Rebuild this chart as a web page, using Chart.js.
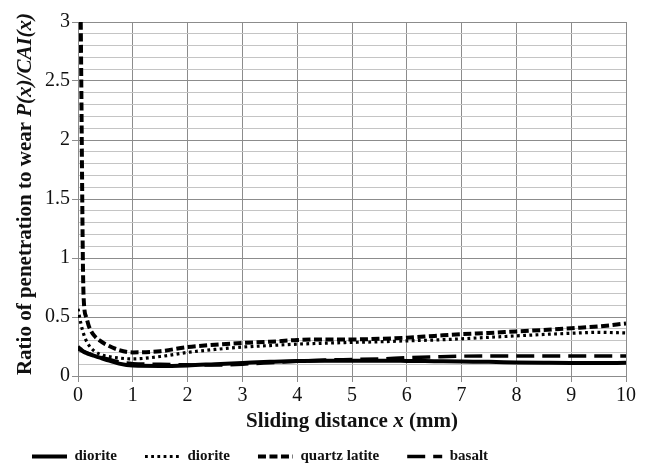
<!DOCTYPE html>
<html>
<head>
<meta charset="utf-8">
<script src="https://cdn.jsdelivr.net/npm/chart.js@4"></script>
<style>
html,body{margin:0;padding:0;background:#fff;}
#wrap{width:646px;height:468px;position:relative;}
</style>
</head>
<body>
<div id="wrap"><canvas id="c"></canvas></div>
<script>
const xValues = [0, 0.05, 0.1, 0.15, 0.2, 0.3, 0.4, 0.5, 0.75, 1, 1.5, 2, 2.5, 3, 3.5, 4, 4.5, 5, 5.5, 6, 6.5, 7, 7.5, 8, 8.5, 9, 9.5, 10];
const dioriteSolid = [0.23, 0.22, 0.205, 0.195, 0.185, 0.17, 0.155, 0.14, 0.105, 0.088, 0.085, 0.09, 0.1, 0.11, 0.12, 0.128, 0.13, 0.13, 0.13, 0.128, 0.125, 0.122, 0.12, 0.115, 0.112, 0.11, 0.11, 0.112];
const dioriteDotted = [0.57, 0.45, 0.36, 0.3, 0.26, 0.21, 0.185, 0.17, 0.152, 0.145, 0.165, 0.2, 0.225, 0.245, 0.258, 0.27, 0.278, 0.285, 0.29, 0.298, 0.305, 0.315, 0.328, 0.34, 0.352, 0.362, 0.37, 0.365];
const quartzLatite = [null, 3.0, 0.7, 0.5, 0.42, 0.34, 0.3, 0.27, 0.22, 0.2, 0.21, 0.245, 0.265, 0.28, 0.29, 0.305, 0.31, 0.31, 0.315, 0.325, 0.34, 0.355, 0.365, 0.378, 0.39, 0.405, 0.42, 0.445];
const basalt = [0.25, 0.23, 0.21, 0.2, 0.19, 0.17, 0.16, 0.15, 0.12, 0.105, 0.1, 0.095, 0.092, 0.1, 0.112, 0.125, 0.135, 0.14, 0.145, 0.155, 0.162, 0.168, 0.17, 0.17, 0.17, 0.17, 0.17, 0.17];
const seriesLabels = ['diorite', 'diorite', 'quartz latite', 'basalt'];
const yTitleParts = [['Ratio of penetration to wear ', false], ['P(x)/CAI(x)', true]];
const xTitleParts = [['Sliding distance ', false], ['x', true], [' (mm)', false]];

const FONT = "'Liberation Serif', 'Times New Roman', serif";
const pts = arr => xValues.map((x, i) => ({x: x, y: arr[i]}));
const isMajor = v => Math.abs(v * 2 - Math.round(v * 2)) < 1e-6;

const titlePlugin = {
  id: 'titles',
  afterDraw(chart) {
    const ctx = chart.ctx;
    const a = chart.chartArea;
    const fnt = it => (it ? 'italic ' : '') + 'bold 21px ' + FONT;
    function drawParts(parts, cx, cy, rot) {
      ctx.save();
      ctx.translate(cx, cy);
      ctx.rotate(rot);
      let total = 0;
      parts.forEach(p => { ctx.font = fnt(p[1]); total += ctx.measureText(p[0]).width; });
      let x = -total / 2;
      ctx.fillStyle = '#111';
      ctx.textBaseline = 'alphabetic';
      ctx.textAlign = 'left';
      parts.forEach(p => { ctx.font = fnt(p[1]); ctx.fillText(p[0], x, 0); x += ctx.measureText(p[0]).width; });
      ctx.restore();
    }
    drawParts(xTitleParts, (a.left + a.right) / 2, 427, 0);
    drawParts(yTitleParts, 31, (a.top + a.bottom) / 2 - 5, -Math.PI / 2);
  }
};

new Chart(document.getElementById('c'), {
  type: 'line',
  data: {
    datasets: [
      {label: seriesLabels[0], data: pts(dioriteSolid), borderColor: '#000', backgroundColor: '#000', borderWidth: 4, borderDash: [], pointRadius: 0, cubicInterpolationMode: 'monotone'},
      {label: seriesLabels[1], data: pts(dioriteDotted), borderColor: '#000', backgroundColor: '#000', borderWidth: 3.2, borderDash: [2.8, 3.4], pointRadius: 0, cubicInterpolationMode: 'monotone'},
      {label: seriesLabels[2], data: pts(quartzLatite), borderColor: '#000', backgroundColor: '#000', borderWidth: 4, borderDash: [8, 3.5], pointRadius: 0, cubicInterpolationMode: 'monotone', spanGaps: false},
      {label: seriesLabels[3], data: pts(basalt), borderColor: '#000', backgroundColor: '#000', borderWidth: 3.4, borderDash: [18, 8], pointRadius: 0, cubicInterpolationMode: 'monotone'}
    ]
  },
  options: {
    responsive: true,
    maintainAspectRatio: false,
    animation: false,
    layout: {padding: {left: 4, right: 20, top: 22, bottom: -6}},
    plugins: {
      tooltip: {enabled: false},
      legend: {
        position: 'bottom',
        align: 'start',
        labels: {
          usePointStyle: true,
          pointStyle: 'line',
          pointStyleWidth: 35,
          boxWidth: 35,
          padding: 28,
          color: '#111',
          font: {family: FONT, size: 15, weight: 'bold'},
          generateLabels(chart) {
            return chart.data.datasets.map((ds, i) => ({
              text: ds.label,
              fillStyle: ds.borderColor,
              strokeStyle: ds.borderColor,
              lineWidth: ds.borderWidth,
              lineDash: ds.borderDash,
              lineCap: 'butt',
              pointStyle: 'line',
              hidden: false,
              datasetIndex: i,
              fontColor: '#111'
            }));
          }
        }
      }
    },
    scales: {
      x: {
        type: 'linear',
        min: 0, max: 10,
        afterFit(scale) { scale.height = 98 - (scale.chart.legend ? scale.chart.legend.height : 0); },
        ticks: {stepSize: 1, color: '#111', font: {family: FONT, size: 20}, padding: 2, maxRotation: 0},
        grid: {color: '#8c8c8c', lineWidth: 1, tickLength: 6, tickColor: '#8c8c8c'},
        border: {color: '#8c8c8c'}
      },
      y: {
        min: 0, max: 3,
        afterFit(scale) { scale.width = 74; },
        ticks: {
          stepSize: 0.1, autoSkip: false, color: '#111', padding: 2,
          font: {family: FONT, size: 20},
          callback: v => { const r = Math.round(v * 10) / 10; return isMajor(r) ? String(r) : ''; }
        },
        grid: {
          color: c => isMajor(c.tick.value) ? '#8c8c8c' : '#c4c4c4',
          lineWidth: 1,
          tickLength: 6,
          tickColor: c => isMajor(c.tick.value) ? '#8c8c8c' : 'rgba(0,0,0,0)'
        },
        border: {color: '#8c8c8c'}
      }
    }
  },
  plugins: [titlePlugin]
});
</script>
</body>
</html>
